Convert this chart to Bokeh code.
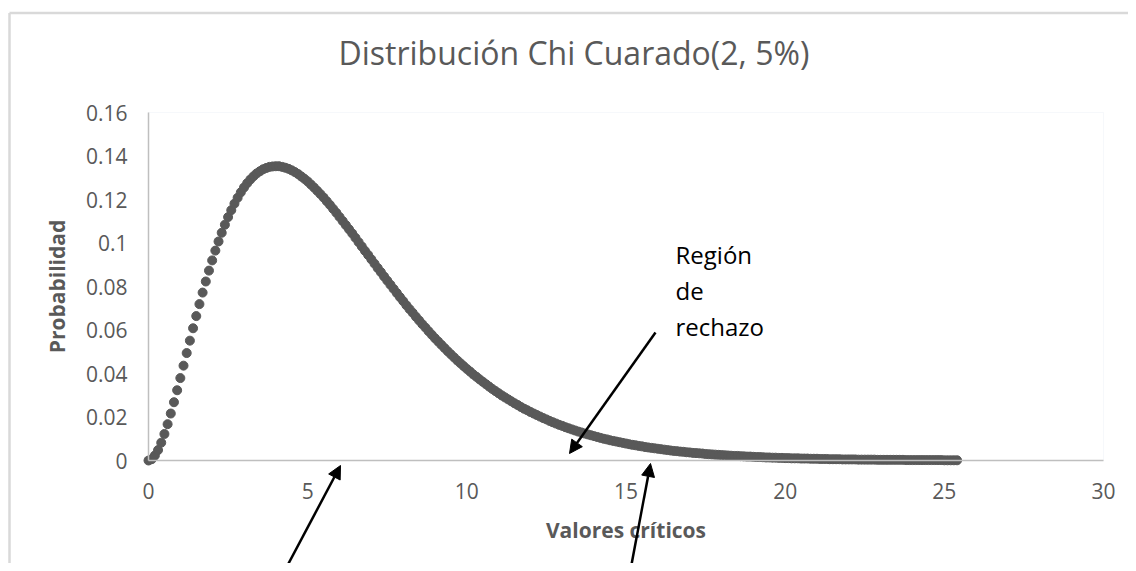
from bokeh.plotting import figure
from bokeh.models import (Arrow, NormalHead, Label, FixedTicker, BoxAnnotation,
                          CustomJSTickFormatter, Range1d, ColumnDataSource)
from bokeh.embed import file_html
from bokeh.resources import INLINE

# ---------------- data ----------------
chart_title = "Distribución Chi Cuarado(2, 5%)"
x_label = "Valores críticos"
y_label = "Probabilidad"
annotation_lines = ["Región", "de", "rechazo"]

x_step = 0.1
n_points = 255  # points from 0 to 25.4
valores = [round(i * x_step, 1) for i in range(n_points)]

probabilidad = [
    # 0.0 - 2.0
    0.0000, 0.0006, 0.0023, 0.0048, 0.0082, 0.0122, 0.0167, 0.0216, 0.0268, 0.0323,
    0.0379, 0.0436, 0.0494, 0.0551, 0.0608, 0.0664, 0.0719, 0.0772, 0.0823, 0.0873, 0.0920,
    # 2.1 - 4.0
    0.0965, 0.1007, 0.1047, 0.1084, 0.1119, 0.1151, 0.1181, 0.1208, 0.1233, 0.1255,
    0.1275, 0.1292, 0.1307, 0.1320, 0.1330, 0.1339, 0.1345, 0.1350, 0.1352, 0.1353,
    # 4.1 - 6.0
    0.1353, 0.1350, 0.1346, 0.1341, 0.1334, 0.1326, 0.1317, 0.1306, 0.1295, 0.1283,
    0.1269, 0.1255, 0.1240, 0.1225, 0.1209, 0.1192, 0.1175, 0.1157, 0.1139, 0.1120,
    # 6.1 - 8.0
    0.1101, 0.1082, 0.1063, 0.1044, 0.1024, 0.1004, 0.0984, 0.0964, 0.0945, 0.0925,
    0.0905, 0.0885, 0.0866, 0.0846, 0.0827, 0.0808, 0.0789, 0.0770, 0.0751, 0.0733,
    # 8.1 - 10.0
    0.0714, 0.0696, 0.0679, 0.0661, 0.0644, 0.0627, 0.0611, 0.0594, 0.0578, 0.0562,
    0.0547, 0.0532, 0.0517, 0.0502, 0.0488, 0.0474, 0.0460, 0.0447, 0.0434, 0.0421,
    # 10.1 - 12.0
    0.0409, 0.0396, 0.0385, 0.0373, 0.0362, 0.0351, 0.0340, 0.0329, 0.0319, 0.0309,
    0.0299, 0.0290, 0.0281, 0.0272, 0.0263, 0.0255, 0.0246, 0.0238, 0.0231, 0.0223,
    # 12.1 - 14.0
    0.0216, 0.0209, 0.0202, 0.0195, 0.0189, 0.0182, 0.0176, 0.0170, 0.0164, 0.0159,
    0.0153, 0.0148, 0.0143, 0.0138, 0.0133, 0.0129, 0.0124, 0.0120, 0.0116, 0.0112,
    # 14.1 - 16.0
    0.0108, 0.0104, 0.0100, 0.0097, 0.0093, 0.0090, 0.0087, 0.0084, 0.0081, 0.0078,
    0.0075, 0.0072, 0.0070, 0.0067, 0.0065, 0.0062, 0.0060, 0.0058, 0.0056, 0.0054,
    # 16.1 - 18.0
    0.0052, 0.0050, 0.0048, 0.0046, 0.0044, 0.0043, 0.0041, 0.0040, 0.0038, 0.0037,
    0.0035, 0.0034, 0.0033, 0.0032, 0.0030, 0.0029, 0.0028, 0.0027, 0.0026, 0.0025,
    # 18.1 - 20.0
    0.0024, 0.0023, 0.0022, 0.0021, 0.0021, 0.0020, 0.0019, 0.0018, 0.0018, 0.0017,
    0.0016, 0.0016, 0.0015, 0.0014, 0.0014, 0.0013, 0.0013, 0.0012, 0.0012, 0.0011,
    # 20.1 - 22.0
    0.0011, 0.0010, 0.0010, 0.0010, 0.0009, 0.0009, 0.0009, 0.0008, 0.0008, 0.0008,
    0.0007, 0.0007, 0.0007, 0.0006, 0.0006, 0.0006, 0.0006, 0.0005, 0.0005, 0.0005,
    # 22.1 - 24.0
    0.0005, 0.0005, 0.0004, 0.0004, 0.0004, 0.0004, 0.0004, 0.0004, 0.0003, 0.0003,
    0.0003, 0.0003, 0.0003, 0.0003, 0.0003, 0.0003, 0.0003, 0.0002, 0.0002, 0.0002,
    # 24.1 - 25.4
    0.0002, 0.0002, 0.0002, 0.0002, 0.0002, 0.0002, 0.0002, 0.0002, 0.0002, 0.0001,
    0.0001, 0.0001, 0.0001, 0.0001,
]
assert len(valores) == len(probabilidad)

x_ticks = [0, 5, 10, 15, 20, 25, 30]
y_ticks = [0, 0.02, 0.04, 0.06, 0.08, 0.10, 0.12, 0.14, 0.16]
X0, X1 = 0, 30
Y0, Y1 = 0, 0.16

# ---------------- layout constants (pixels) ----------------
W, H = 1128, 563
F_LEFT, F_RIGHT, F_TOP, F_BOTTOM = 148, 1103, 112, 460   # plot area
SX = (F_RIGHT - F_LEFT) / (X1 - X0)
SY = (F_BOTTOM - F_TOP) / (Y1 - Y0)


def dx(px):
    return X0 + (px - F_LEFT) / SX


def dy(py):
    return Y0 + (F_BOTTOM - py) / SY


FONT = "Open Sans"
GREY_TEXT = "#595959"

# the frame covers the whole canvas so that annotations outside the plot
# area are not clipped; the axes are pinned at x=0 and y=0
p = figure(width=W, height=H,
           x_range=Range1d(dx(0), dx(W)), y_range=Range1d(dy(H), dy(0)),
           output_backend="svg", toolbar_location=None,
           min_border=0, min_border_left=0, min_border_right=0,
           min_border_top=0, min_border_bottom=0)

p.background_fill_color = "white"
p.border_fill_color = "white"
p.outline_line_color = None
p.xgrid.visible = False
p.ygrid.visible = False

# faint plot-area border
p.add_layout(BoxAnnotation(left=X0, right=X1, bottom=Y0, top=Y1,
                           fill_alpha=0, line_color="#e2e7f1", line_width=1,
                           level="underlay"))

for ax in (p.xaxis, p.yaxis):
    ax.fixed_location = 0
    ax.major_tick_in = 0
    ax.major_tick_out = 0
    ax.minor_tick_in = 0
    ax.minor_tick_out = 0
    ax.axis_line_color = "#bfbfbf"
    ax.axis_line_width = 1.5
    ax.major_label_text_font = FONT
    ax.major_label_text_font_size = "21px"
    ax.major_label_text_color = GREY_TEXT
    ax.axis_label_text_font = FONT
    ax.axis_label_text_font_size = "21px"
    ax.axis_label_text_font_style = "bold"
    ax.axis_label_text_color = GREY_TEXT

p.xaxis.bounds = (X0, X1)
p.yaxis.bounds = (Y0, Y1)
p.xaxis.ticker = FixedTicker(ticks=x_ticks)
p.yaxis.ticker = FixedTicker(ticks=y_ticks)
p.yaxis.formatter = CustomJSTickFormatter(
    code="return tick.toFixed(2).replace(/0+$/, '').replace(/\\.$/, '');")
p.xaxis.major_label_standoff = 22
p.yaxis.major_label_standoff = 21
p.xaxis.axis_label = x_label
p.yaxis.axis_label = y_label
p.xaxis.axis_label_standoff = 14
p.yaxis.axis_label_standoff = 12

source = ColumnDataSource(dict(x=valores, y=probabilidad))
p.scatter("x", "y", source=source, size=9, color="#595959")

# title
p.add_layout(Label(x=dx(338), y=dy(52), text=chart_title, text_align="left",
                   text_baseline="alphabetic", text_font=FONT,
                   text_font_size="32px", text_color=GREY_TEXT))

# annotation text
ann_baselines_px = [254, 290, 326]
for t, by in zip(annotation_lines, ann_baselines_px):
    p.add_layout(Label(x=dx(675), y=dy(by), text=t, text_align="left",
                       text_baseline="alphabetic", text_font=FONT,
                       text_font_size="24px", text_color="#000000"))

# arrows (tail -> tip, pixel positions)
arrow_px = [((279, 580), (340, 465)),
            ((655, 332), (569, 453)),
            ((628, 580), (650, 463))]
for (tx, ty), (hx, hy) in arrow_px:
    p.add_layout(Arrow(end=NormalHead(size=13, fill_color="black",
                                      line_color="black", line_width=1),
                       x_start=dx(tx), y_start=dy(ty),
                       x_end=dx(hx), y_end=dy(hy),
                       line_color="black", line_width=2.5))

# outer chart border (left and top)
for (ax0, ay0), (ax1, ay1) in [((9, 12.5), (9, 600)), ((9, 12.5), (1200, 12.5))]:
    p.add_layout(Arrow(end=None, x_start=dx(ax0), y_start=dy(ay0),
                       x_end=dx(ax1), y_end=dy(ay1),
                       line_color="#d9d9d9", line_width=2.5))

open("out.html", "w").write(file_html(p, INLINE))
